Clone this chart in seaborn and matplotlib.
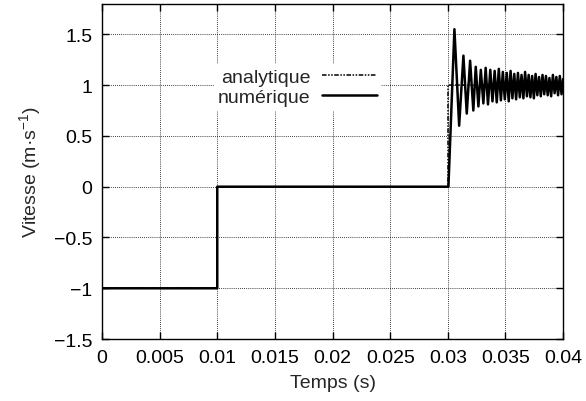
import matplotlib
matplotlib.use('Agg')
import pandas as pd
import seaborn as sns
import matplotlib.pyplot as plt

# --- Data ---
# analytical solution: piecewise steps
ana_t = [0.0, 0.01, 0.01, 0.03, 0.03, 0.04]
ana_v = [-1.0, -1.0, 0.0, 0.0, 1.0, 1.0]

# numerical solution: steps, then ringing extrema after t = 0.03
num_t_steps = [0.0, 0.01, 0.01, 0.03005]
num_v_steps = [-1.0, -1.0, 0.0, 0.0]

peak_t = [0.03057, 0.03135, 0.03193, 0.03242, 0.03286, 0.03328, 0.03368, 0.03406,
          0.03442, 0.03477, 0.03511, 0.03544, 0.03576, 0.03608, 0.03639, 0.03670,
          0.03701, 0.03731, 0.03761, 0.03791, 0.03821, 0.03851, 0.03881, 0.03911,
          0.03941, 0.03971, 0.04000]
peak_v = [1.55, 1.29, 1.24, 1.18, 1.15, 1.17, 1.15, 1.14, 1.16, 1.13, 1.12, 1.14,
          1.11, 1.12, 1.10, 1.13, 1.10, 1.09, 1.11, 1.08, 1.10, 1.09, 1.07, 1.10,
          1.08, 1.09, 1.06]
trough_t = [0.03098, 0.03164, 0.03221, 0.03265, 0.03308, 0.03348, 0.03387, 0.03424,
            0.03460, 0.03494, 0.03528, 0.03560, 0.03592, 0.03624, 0.03655, 0.03686,
            0.03716, 0.03746, 0.03776, 0.03806, 0.03836, 0.03866, 0.03896, 0.03926,
            0.03956, 0.03986]
trough_v = [0.60, 0.72, 0.75, 0.79, 0.82, 0.81, 0.84, 0.83, 0.85, 0.86, 0.84, 0.87,
            0.86, 0.88, 0.87, 0.89, 0.88, 0.87, 0.90, 0.89, 0.91, 0.90, 0.89, 0.92,
            0.90, 0.91]

x_ticks = [0, 0.005, 0.01, 0.015, 0.02, 0.025, 0.03, 0.035, 0.04]
x_tick_labels = ['0', '0.005', '0.01', '0.015', '0.02', '0.025', '0.03', '0.035', '0.04']
y_ticks = [-1.5, -1, -0.5, 0, 0.5, 1, 1.5]
y_tick_labels = ['\u22121.5', '\u22121', '\u22120.5', '0', '0.5', '1', '1.5']

# --- build tables ---
ring = sorted(zip(peak_t + trough_t, peak_v + trough_v))
num_df = pd.DataFrame({'t': num_t_steps + [p[0] for p in ring],
                       'v': num_v_steps + [p[1] for p in ring]})
ana_df = pd.DataFrame({'t': ana_t, 'v': ana_v})

# --- Styling ---
sns.set_style("white")
plt.rcParams['font.family'] = ['Liberation Sans', 'DejaVu Sans']
plt.rcParams['mathtext.default'] = 'regular'
plt.rcParams['font.size'] = 14

fig = plt.figure(figsize=(5.86, 4.02), dpi=100)
ax = fig.add_axes([0.174, 0.154, 0.787, 0.834])

sns.lineplot(data=num_df, x='t', y='v', sort=False, estimator=None, ax=ax,
             color='black', linewidth=1.8, label='numérique')
sns.lineplot(data=ana_df, x='t', y='v', sort=False, estimator=None, ax=ax,
             color='black', linewidth=1.1, label='analytique')
ax.lines[1].set_dashes([3, 1, 1, 1, 1, 1])

ax.set_xlim(0, 0.04)
ax.set_ylim(-1.5, 1.8)
ax.set_xticks(x_ticks)
ax.set_xticklabels(x_tick_labels)
ax.set_yticks(y_ticks)
ax.set_yticklabels(y_tick_labels)
ax.set_xlabel('Temps (s)', labelpad=6)
ax.set_ylabel('Vitesse (m\u00b7s$^{-1}$)', labelpad=8)

ax.grid(True, color='black', linestyle=(0, (1, 1.5)), linewidth=0.6)
for s in ax.spines.values():
    s.set_color('black')
    s.set_linewidth(1.0)
ax.tick_params(direction='in', length=5, width=1, top=True, right=True,
               bottom=True, left=True, colors='black', labelcolor='black', pad=7)

handles, labels = ax.get_legend_handles_labels()
leg = ax.legend(handles[::-1], labels[::-1], loc='center right',
                bbox_to_anchor=(0.625, 0.752), markerfirst=False, frameon=True,
                fancybox=False, edgecolor='white', facecolor='white', framealpha=1,
                handlelength=2.8, handletextpad=0.6, borderpad=0.2,
                labelspacing=0.15, fontsize=14)
for t in leg.get_texts():
    t.set_ha('right')

fig.savefig('out.png', dpi=100)
